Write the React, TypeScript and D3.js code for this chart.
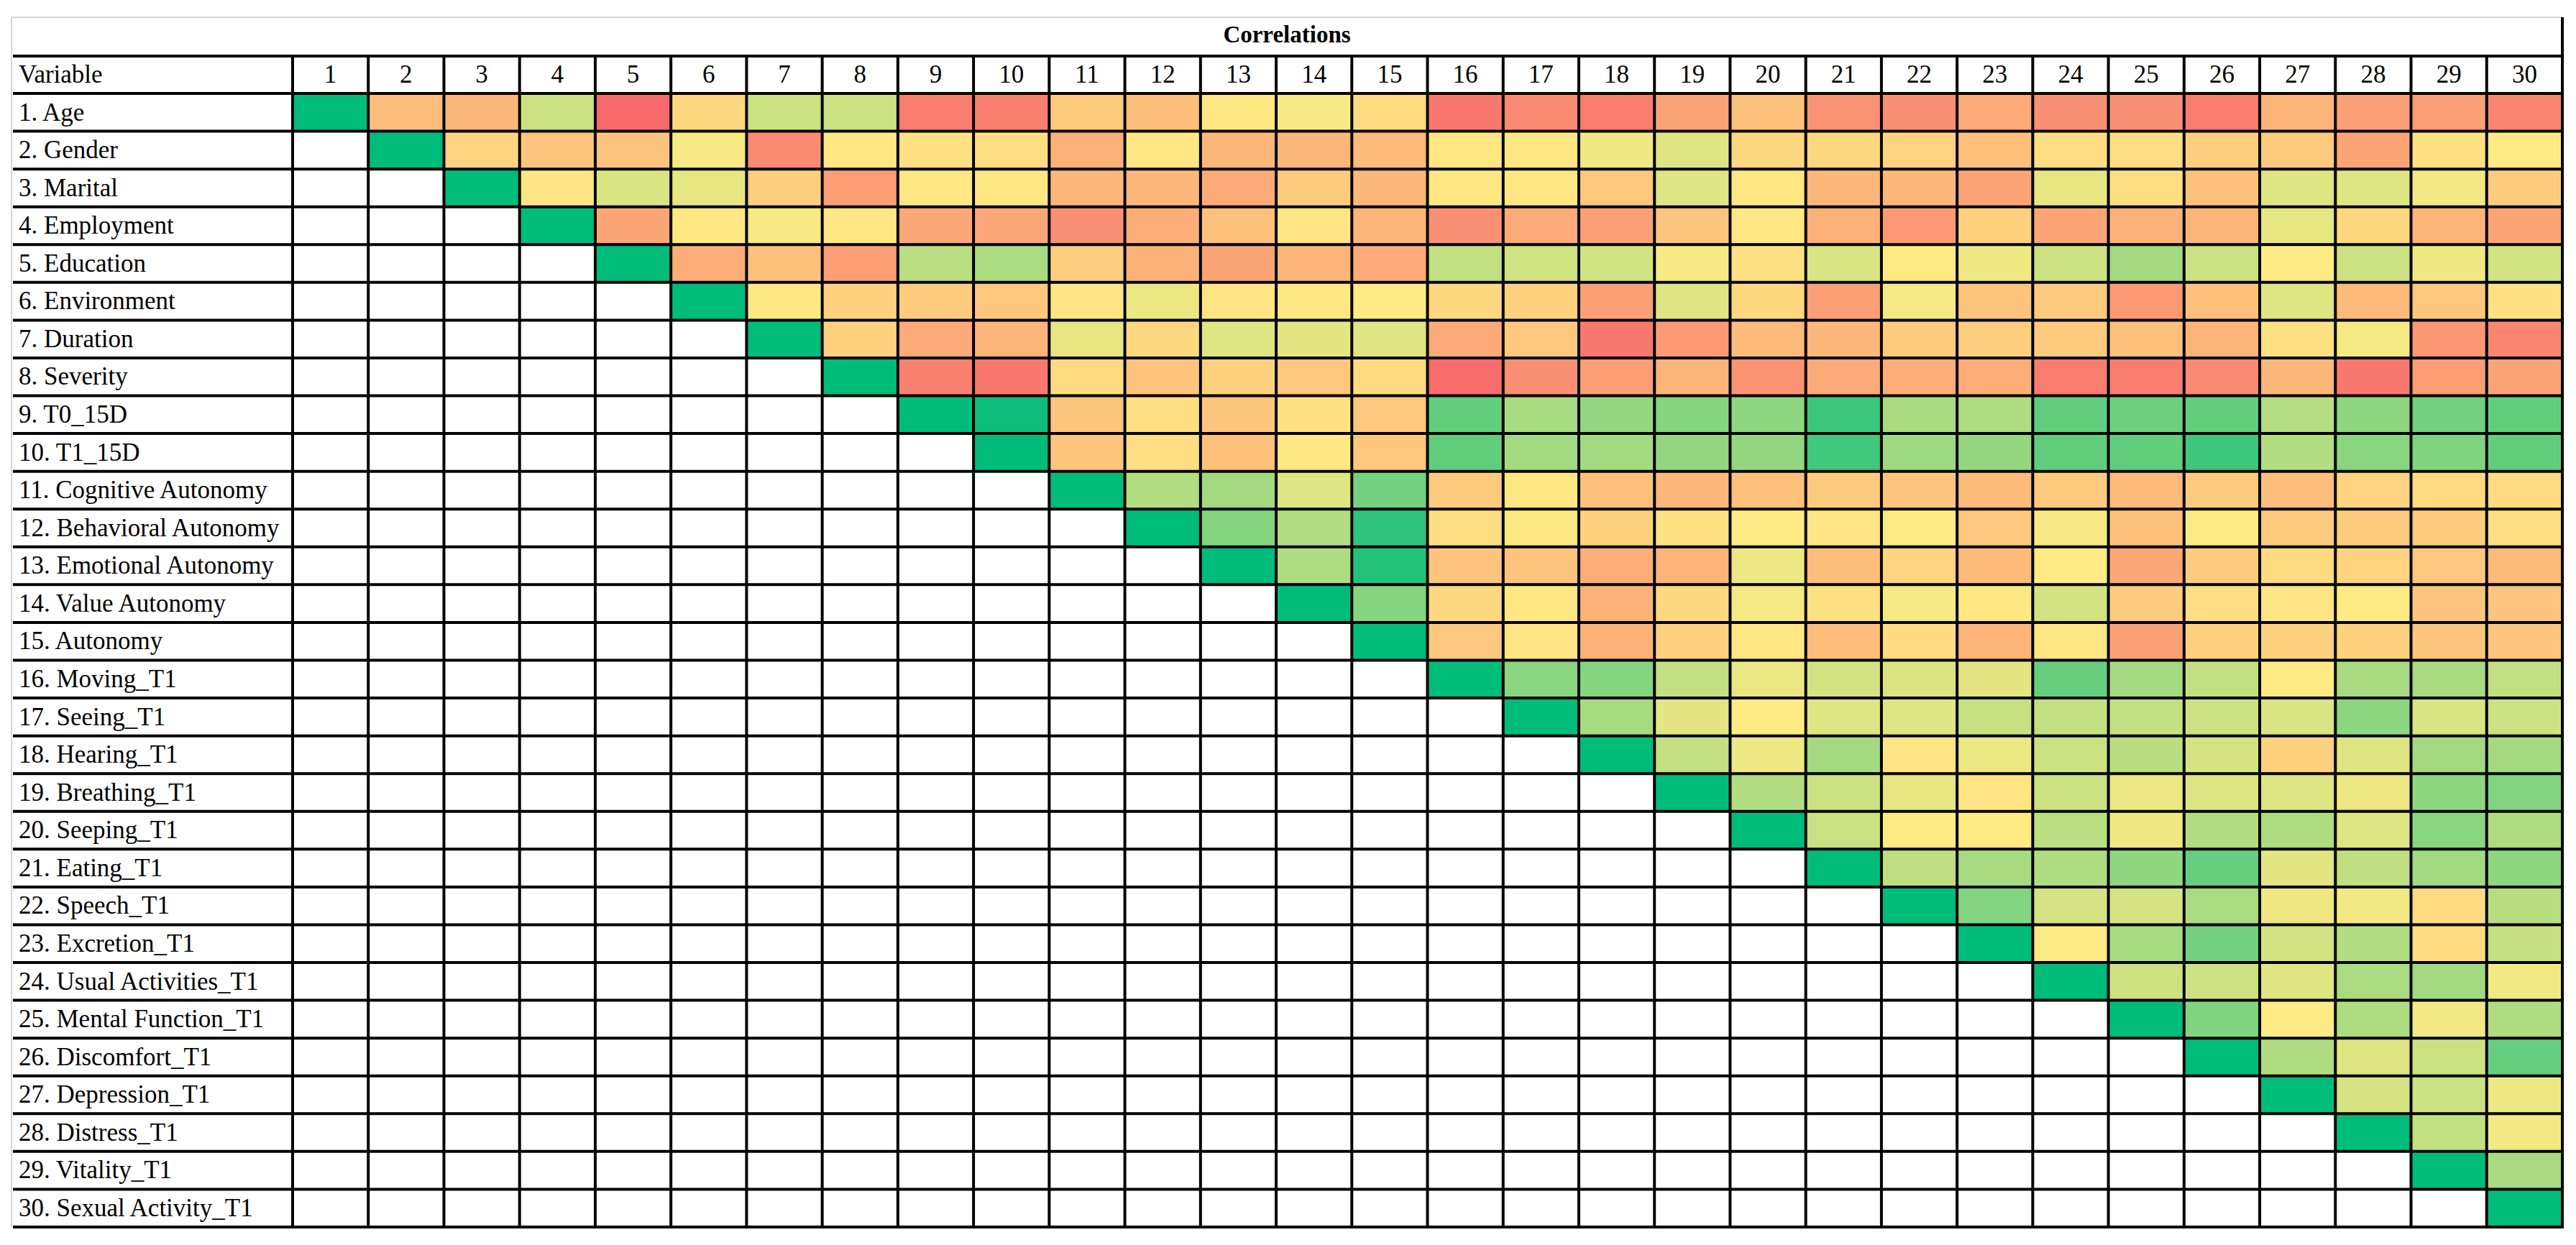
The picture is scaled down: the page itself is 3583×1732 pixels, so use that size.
import React from "react";
import * as d3 from "d3";

const variables = [
  "1. Age", "2. Gender", "3. Marital", "4. Employment", "5. Education", "6. Environment",
  "7. Duration", "8. Severity", "9. T0_15D", "10. T1_15D", "11. Cognitive Autonomy",
  "12. Behavioral Autonomy", "13. Emotional Autonomy", "14. Value Autonomy", "15. Autonomy",
  "16. Moving_T1", "17. Seeing_T1", "18. Hearing_T1", "19. Breathing_T1", "20. Seeping_T1",
  "21. Eating_T1", "22. Speech_T1", "23. Excretion_T1", "24. Usual Activities_T1",
  "25. Mental Function_T1", "26. Discomfort_T1", "27. Depression_T1", "28. Distress_T1",
  "29. Vitality_T1", "30. Sexual Activity_T1",
];
const columnLabels = d3.range(1, 31).map(String);

// Each row holds the correlations from the diagonal (column = row number) to column 30.
const rowAge = [1, -0.14, -0.16, 0.2, -0.4, -0.06, 0.2, 0.2, -0.34, -0.33, -0.1, -0.14, -0.01, 0.03, -0.05, -0.35, -0.3, -0.34, -0.22, -0.13, -0.27, -0.28, -0.2, -0.28, -0.28, -0.34, -0.17, -0.23, -0.23, -0.31];
const rowGender = [1, -0.07, -0.12, -0.12, 0.03, -0.3, -0.01, -0.03, -0.04, -0.18, -0.01, -0.16, -0.16, -0.15, -0.01, -0.01, 0.06, 0.12, -0.06, -0.06, -0.07, -0.13, -0.04, -0.04, -0.09, -0.1, -0.22, -0.03, 0];
const rowMarital = [1, -0.02, 0.15, 0.1, -0.09, -0.24, -0.01, -0.01, -0.16, -0.16, -0.2, -0.1, -0.16, -0.01, -0.01, -0.11, 0.13, -0.01, -0.16, -0.16, -0.22, 0.1, -0.04, -0.13, 0.13, 0.13, 0.05, -0.1];
const rowEmployment = [1, -0.22, -0.01, 0.03, -0.01, -0.21, -0.21, -0.28, -0.19, -0.13, -0.02, -0.17, -0.28, -0.2, -0.23, -0.12, -0.01, -0.18, -0.25, -0.08, -0.22, -0.18, -0.17, 0.1, -0.06, -0.17, -0.22];
const rowEducation = [1, -0.19, -0.13, -0.24, 0.27, 0.33, -0.09, -0.18, -0.22, -0.17, -0.2, 0.24, 0.18, 0.18, 0.03, -0.03, 0.15, 0, 0.06, 0.2, 0.36, 0.21, 0, 0.2, 0.06, 0.18];
const rowEnvironment = [1, -0.01, -0.08, -0.1, -0.11, -0.02, 0.07, -0.02, -0.01, 0, -0.06, -0.08, -0.23, 0.12, -0.06, -0.23, 0.04, -0.12, -0.1, -0.25, -0.13, 0.13, -0.15, -0.11, -0.03];
const rowDuration = [1, -0.08, -0.2, -0.17, 0.1, -0.06, 0.13, 0.11, 0.12, -0.2, -0.11, -0.35, -0.25, -0.15, -0.16, -0.1, -0.09, -0.1, -0.13, -0.17, -0.03, 0.04, -0.26, -0.31];
const rowSeverity = [1, -0.33, -0.35, -0.05, -0.12, -0.08, -0.11, -0.05, -0.39, -0.28, -0.24, -0.17, -0.27, -0.2, -0.19, -0.19, -0.34, -0.34, -0.3, -0.16, -0.35, -0.24, -0.22];
const rowT0 = [1, 0.95, -0.12, -0.04, -0.12, -0.03, -0.11, 0.62, 0.35, 0.42, 0.48, 0.44, 0.76, 0.34, 0.31, 0.62, 0.57, 0.62, 0.29, 0.44, 0.55, 0.62];
const rowT1 = [1, -0.12, -0.04, -0.13, -0.01, -0.11, 0.62, 0.36, 0.36, 0.42, 0.42, 0.75, 0.38, 0.42, 0.62, 0.62, 0.76, 0.3, 0.46, 0.5, 0.62];
const rowCognitive = [1, 0.3, 0.36, 0.13, 0.55, -0.1, -0.01, -0.13, -0.16, -0.13, -0.1, -0.12, -0.15, -0.1, -0.15, -0.1, -0.14, -0.07, -0.05, -0.05];
const rowBehavioral = [1, 0.48, 0.3, 0.82, -0.04, -0.01, -0.08, -0.03, 0, -0.02, 0, -0.11, 0.03, -0.13, 0, -0.1, -0.1, -0.1, -0.04];
const rowEmotional = [1, 0.32, 0.86, -0.12, -0.12, -0.19, -0.17, 0.07, -0.14, -0.07, -0.15, 0, -0.21, -0.1, -0.05, -0.07, -0.11, -0.15];
const rowValue = [1, 0.48, -0.06, -0.01, -0.18, -0.06, 0.04, -0.03, 0.04, -0.01, 0.17, -0.1, -0.04, -0.02, 0, -0.12, -0.12];
const rowAutonomy = [1, -0.11, -0.02, -0.18, -0.08, -0.01, -0.14, -0.05, -0.17, -0.01, -0.23, -0.08, -0.08, -0.08, -0.12, -0.12];
const rowMoving = [1, 0.46, 0.48, 0.24, 0.08, 0.17, 0.14, 0.11, 0.6, 0.36, 0.24, 0, 0.34, 0.34, 0.24];
const rowSeeing = [1, 0.35, 0.11, 0, 0.13, 0.13, 0.22, 0.24, 0.24, 0.2, 0.15, 0.45, 0.15, 0.2];
const rowHearing = [1, 0.24, 0.07, 0.36, -0.02, 0.08, 0.2, 0.28, 0.16, -0.08, 0.12, 0.36, 0.36];
const rowBreathing = [1, 0.3, 0.2, 0.1, -0.02, 0.2, 0.08, 0.13, 0.13, 0.07, 0.44, 0.49];
const rowSeeping = [1, 0.21, 0, 0, 0.27, 0.06, 0.3, 0.31, 0.13, 0.46, 0.31];
const rowEating = [1, 0.25, 0.34, 0.31, 0.43, 0.6, 0.11, 0.25, 0.36, 0.45];
const rowSpeech = [1, 0.49, 0.16, 0.16, 0.33, 0.06, 0.05, -0.05, 0.28];
const rowExcretion = [1, 0, 0.35, 0.55, 0.17, 0.3, -0.05, 0.23];
const rowUsual = [1, 0.19, 0.2, 0.12, 0.33, 0.36, 0.05];
const rowMental = [1, 0.5, 0.01, 0.32, 0.05, 0.31];
const rowDiscomfort = [1, 0.31, 0.12, 0.2, 0.6];
const rowDepression = [1, 0.16, 0.2, 0.07];
const rowDistress = [1, 0.24, 0.05];
const rowVitality = [1, 0.34];
const rowSexual = [1];

const matrixRows = [
  rowAge, rowGender, rowMarital, rowEmployment, rowEducation, rowEnvironment, rowDuration,
  rowSeverity, rowT0, rowT1, rowCognitive, rowBehavioral, rowEmotional, rowValue, rowAutonomy,
  rowMoving, rowSeeing, rowHearing, rowBreathing, rowSeeping, rowEating, rowSpeech, rowExcretion,
  rowUsual, rowMental, rowDiscomfort, rowDepression, rowDistress, rowVitality, rowSexual,
];

const W = 3583;
const H = 1732;
const LEFT = 18;
const VAR_RIGHT = 407;
const RIGHT = 3564;
const TITLE_TOP = 24;
const HEAD_TOP = 78;
const HEAD_BOTTOM = 130;
const BOTTOM = 1707;
const LW = 4;
const FONT = "'Liberation Serif', 'Times New Roman', serif";
const FS = 35;

export default function App() {
  const idx = d3.range(1, 31);
  const x = d3.scaleBand<number>().domain(idx).range([VAR_RIGHT, RIGHT]);
  const y = d3.scaleBand<number>().domain(idx).range([HEAD_BOTTOM, BOTTOM]);
  const color = d3
    .scaleLinear<string>()
    .domain([-0.4, 0, 1])
    .range(["#F8696B", "#FFEB84", "#00BC7B"])
    .interpolate(d3.interpolateRgb)
    .clamp(true);

  const cells: { r: number; c: number; v: number }[] = [];
  matrixRows.forEach((vals, i) => {
    vals.forEach((v, k) => cells.push({ r: i + 1, c: i + 1 + k, v }));
  });

  const hLines = [HEAD_TOP, ...idx.map((i) => y(i)!), BOTTOM];
  const vLines = [VAR_RIGHT, ...idx.map((c) => x(c)! + x.bandwidth())];

  return (
    <svg
      width={W}
      height={H}
      style={{ position: "absolute", left: 0, top: 0, background: "#fff" }}
    >
      <rect x={0} y={0} width={W} height={H} fill="#fff" />
      {cells.map((d) => (
        <rect
          key={`${d.r}-${d.c}`}
          x={x(d.c)}
          y={y(d.r)}
          width={x.bandwidth()}
          height={y.bandwidth()}
          fill={color(d.v)}
        />
      ))}
      {/* light gray outer frame */}
      <line x1={16} x2={RIGHT} y1={TITLE_TOP} y2={TITLE_TOP} stroke="#d6d6d6" strokeWidth={2} />
      <line x1={16} x2={16} y1={TITLE_TOP} y2={BOTTOM} stroke="#d6d6d6" strokeWidth={2} />
      {/* black grid */}
      {hLines.map((yy, i) => (
        <line key={`h${i}`} x1={LEFT} x2={RIGHT + LW / 2} y1={yy} y2={yy} stroke="#000" strokeWidth={LW} />
      ))}
      {vLines.map((xx, i) => (
        <line
          key={`v${i}`}
          x1={xx}
          x2={xx}
          y1={i === vLines.length - 1 ? TITLE_TOP : HEAD_TOP}
          y2={BOTTOM + LW / 2}
          stroke="#000"
          strokeWidth={LW}
        />
      ))}
      <text
        x={(16 + RIGHT) / 2}
        y={59}
        textAnchor="middle"
        fontFamily={FONT}
        fontWeight="bold"
        fontSize={33}
        fill="#000"
      >
        Correlations
      </text>
      <text x={26} y={HEAD_TOP + 37} fontFamily={FONT} fontSize={FS} fill="#000">
        Variable
      </text>
      {idx.map((c, i) => (
        <text
          key={`ch${c}`}
          x={x(c)! + x.bandwidth() / 2}
          y={HEAD_TOP + 37}
          textAnchor="middle"
          fontFamily={FONT}
          fontSize={FS}
          fill="#000"
        >
          {columnLabels[i]}
        </text>
      ))}
      {variables.map((name, i) => (
        <text key={`rl${i}`} x={26} y={y(i + 1)! + 37.5} fontFamily={FONT} fontSize={FS} fill="#000">
          {name}
        </text>
      ))}
    </svg>
  );
}
